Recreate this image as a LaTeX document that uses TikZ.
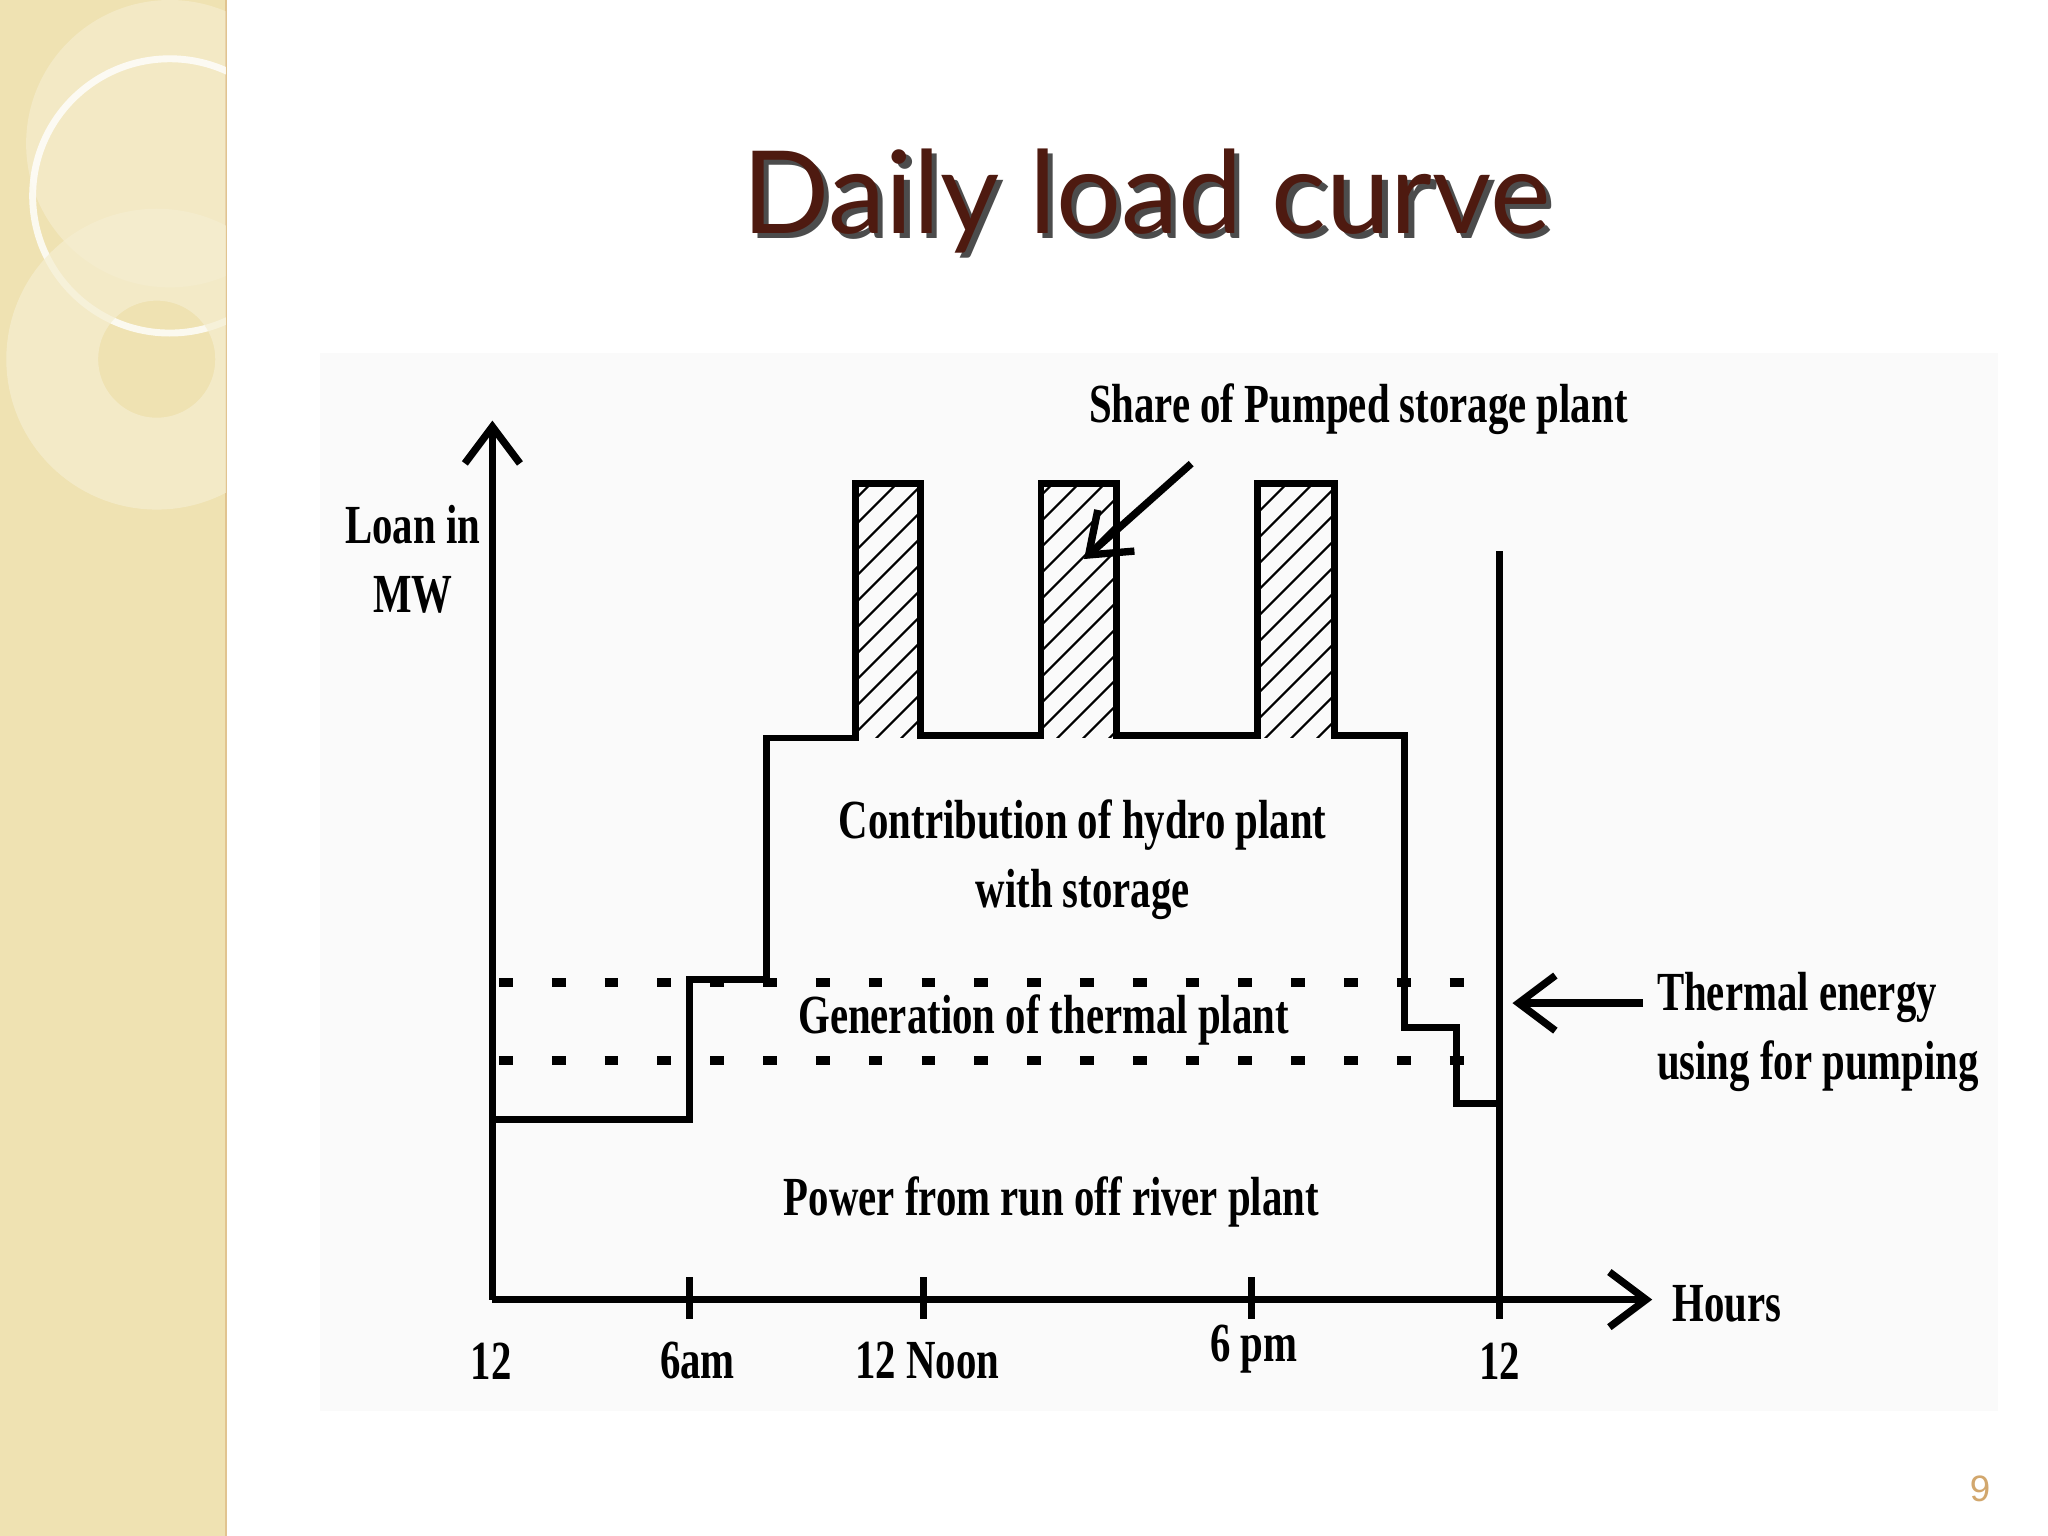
\documentclass[tikz,border=0pt]{standalone}
\usepackage{fontspec}
\setmainfont{Liberation Serif}
\newfontfamily\cond[FakeStretch=0.74]{Liberation Serif}
\newfontfamily\ttl{Lato}
\usetikzlibrary{patterns,patterns.meta,arrows.meta}
\definecolor{side}{HTML}{EFE2B2}
\definecolor{ttlc}{HTML}{4E1A10}
\begin{document}
\begin{tikzpicture}[x=0.01cm,y=-0.01cm,
  lbl/.style={font=\cond\fontsize{12pt}{13pt}\selectfont\bfseries,align=center,inner sep=0pt},
  barb/.style={line width=1.6pt,-{Straight Barb[length=8pt,width=12pt,line width=1.6pt]}},
  crv/.style={line width=1.5pt},
  dots/.style={line width=2pt,dash pattern=on 3pt off 8.5pt}]
\useasboundingbox (0,0) rectangle (1568,1176);
\fill[white] (0,0) rectangle (1568,1176);
\fill[side] (0,0) rectangle (173,1176);
\draw[side!70!brown,line width=0.6pt] (173,0) -- (173,1176);
\begin{scope}
\clip (0,0) rectangle (173,1176);
\fill[white,opacity=0.25] (130,110) circle (110);
\draw[white,line width=1.5pt,opacity=0.8] (130,150) circle (105);
\draw[side!60!white,line width=20pt,opacity=0.7] (120,275) circle (80);
\end{scope}
\fill[gray!4] (245,270) rectangle (1530,1080);
\node[font=\ttl\fontsize{25pt}{28pt}\selectfont,text=gray!60!black] at (882,158) {Daily load curve};
\node[font=\ttl\fontsize{25pt}{28pt}\selectfont,text=ttlc] (title) at (878,154) {Daily load curve};
% hatched bars
\foreach \a/\b in {655/705,797/855,963/1022}
  \fill[pattern={Lines[angle=45,distance=4pt,line width=0.5pt]}] (\a,370) rectangle (\b,565);
% axes
\coordinate (O) at (377,995);
\coordinate (Ytop) at (377,322);
\coordinate (Xend) at (1265,995);
\draw[barb] (O) -- (Ytop);
\draw[barb] (O) -- (Xend);
\foreach \x in {528,707,958,1148} \draw[line width=1.6pt] (\x,978) -- (\x,1010);
\draw[line width=1.5pt] (1148,995) -- (1148,422);
% dotted
\draw[dots] (382,752) -- (1135,752);
\draw[dots] (382,812) -- (1135,812);
% curve
\draw[crv] (377,857) -- (528,857) -- (528,750) -- (587,750) -- (587,565) -- (655,565) -- (655,370) -- (705,370) -- (705,563) -- (797,563) -- (797,370) -- (855,370) -- (855,563) -- (963,563) -- (963,370) -- (1022,370) -- (1022,563) -- (1075,563) -- (1075,787) -- (1115,787) -- (1115,845) -- (1148,845);
% labels
\node[lbl] (ylab) at (316,428) {Loan in\\[2pt]MW};
\node[lbl] (share) at (1040,313) {Share of Pumped storage plant};
\coordinate (sharetip) at (830,428);
\draw[barb] (912,355) -- (sharetip);
\node[lbl] (hydro) at (829,658) {Contribution of hydro plant\\[2pt]with storage};
\node[lbl] (therm) at (799,781) {Generation of thermal plant};
\node[lbl] (river) at (805,920) {Power from run off river plant};
\node[lbl,align=left,anchor=west] (pump) at (1268,790) {Thermal energy\\[2pt]using for pumping};
\coordinate (pumptip) at (1158,768);
\draw[barb] (1258,768) -- (pumptip);
\node[lbl] (hours) at (1322,998) {Hours};
\node[lbl] (t1) at (376,1042) {12};
\node[lbl] (t2) at (534,1042) {6am};
\node[lbl] (t3) at (710,1042) {12 Noon};
\node[lbl] (t4) at (960,1033) {6 pm};
\node[lbl] (t5) at (1148,1042) {12};
\node[font=\fontspec{Liberation Sans}\fontsize{8pt}{9pt}\selectfont,text=side!40!brown] (pg) at (1516,1140) {9};
\end{tikzpicture}
\end{document}
